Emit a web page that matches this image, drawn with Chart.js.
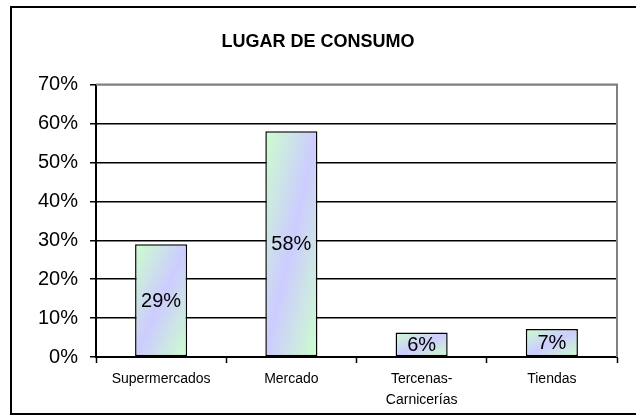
<!DOCTYPE html>
<html>
<head>
<meta charset="utf-8">
<script src="https://cdn.jsdelivr.net/npm/chart.js@4/dist/chart.umd.min.js"></script>
<style>
html,body{margin:0;padding:0;background:#fff;}
#wrap{width:636px;height:417px;position:relative;}
</style>
</head>
<body>
<div id="wrap"><canvas id="c" width="636" height="417"></canvas></div>
<script>
const categories = ["Supermercados", "Mercado", ["Tercenas-", "Carnicerías"], "Tiendas"];
const values = [29, 58, 6.3, 7.2];
const valueLabels = ["29%", "58%", "6%", "7%"];
const yTicks = [0, 10, 20, 30, 40, 50, 60, 70];
const chartTitle = "LUGAR DE CONSUMO";

const FONT = "'Liberation Sans', Arial, sans-serif";
const GREEN = '#ccffcc';
const PURPLE = '#ccccff';

function makeGradient(c, x0, top, w, h) {
  if (![x0, top, w, h].every(Number.isFinite) || w <= 0 || h <= 0) return PURPLE;
  const k = 2 / (1 / (w * w) + 1 / (h * h));
  const g = c.createLinearGradient(x0, top, x0 + k / w, top + k / h);
  g.addColorStop(0, GREEN);
  g.addColorStop(0.5, PURPLE);
  g.addColorStop(1, GREEN);
  return g;
}

const framePlugin = {
  id: 'frame',
  beforeDraw(chart) {
    const c = chart.ctx;
    c.save();
    c.fillStyle = '#fff';
    c.fillRect(0, 0, chart.width, chart.height);
    c.restore();
  },
  beforeDatasetsDraw(chart) {
    const c = chart.ctx;
    const meta = chart.getDatasetMeta(0);
    meta.data.forEach((el) => {
      const top = Math.min(el.y, el.base);
      const h = Math.abs(el.base - el.y);
      const g = makeGradient(c, el.x - el.width / 2, top, el.width, h);
      try { el.options.backgroundColor = g; } catch (e) {}
    });
  },
  afterDraw(chart) {
    const c = chart.ctx;
    const a = chart.chartArea;
    c.save();
    c.strokeStyle = '#808080';
    c.lineWidth = 2;
    c.beginPath();
    c.moveTo(a.left, a.top);
    c.lineTo(a.right, a.top);
    c.lineTo(a.right, a.bottom);
    c.stroke();
    c.strokeStyle = '#000';
    c.lineWidth = 2;
    c.strokeRect(11, 7, 640, 407);
    c.restore();
  },
  afterDatasetsDraw(chart) {
    const c = chart.ctx;
    const meta = chart.getDatasetMeta(0);
    c.save();
    c.font = '20px ' + FONT;
    c.fillStyle = '#000';
    c.textAlign = 'center';
    c.textBaseline = 'middle';
    meta.data.forEach((el, i) => {
      const y = (el.y + el.base) / 2;
      c.fillText(valueLabels[i], el.x, y + 1);
    });
    c.restore();
  }
};

new Chart(document.getElementById('c'), {
  type: 'bar',
  data: {
    labels: categories,
    datasets: [{
      data: values,
      backgroundColor: () => PURPLE,
      borderColor: '#000',
      borderWidth: 1.5,
      borderSkipped: false,
      barPercentage: 0.4,
      categoryPercentage: 1.0
    }]
  },
  options: {
    responsive: false,
    animation: false,
    devicePixelRatio: 1,
    layout: { padding: { left: 19, right: 19, top: 0, bottom: 0 } },
    plugins: {
      legend: { display: false },
      tooltip: { enabled: false },
      title: {
        display: true,
        text: chartTitle,
        color: '#000',
        font: { family: FONT, size: 18, weight: 'bold', lineHeight: 1.2 },
        padding: { top: 31, bottom: 32 }
      }
    },
    scales: {
      x: {
        offset: true,
        grid: {
          offset: true,
          drawOnChartArea: false,
          drawTicks: true,
          tickLength: 6,
          tickColor: '#000',
          tickWidth: 1.5,
          color: '#000'
        },
        border: { display: true, color: '#000', width: 2 },
        ticks: {
          color: '#000',
          padding: 6,
          maxRotation: 0,
          autoSkip: false,
          font: { family: FONT, size: 14, lineHeight: 1.5 }
        },
        afterFit(scale) { scale.height = 60; }
      },
      y: {
        min: 0,
        max: 70,
        afterBuildTicks(scale) { scale.ticks = yTicks.map(v => ({ value: v })); },
        grid: {
          drawTicks: true,
          tickLength: 6,
          tickColor: '#000',
          tickWidth: 1.5,
          lineWidth: 1.5,
          color: (ctx) => (ctx.tick && ctx.tick.value === 70) ? '#808080' : '#000'
        },
        border: { display: true, color: '#000', width: 2 },
        ticks: {
          color: '#000',
          padding: 12,
          font: { family: FONT, size: 20 },
          callback: (v) => v + '%'
        },
        afterFit(scale) { scale.width = 77; }
      }
    }
  },
  plugins: [framePlugin]
});
</script>
</body>
</html>
